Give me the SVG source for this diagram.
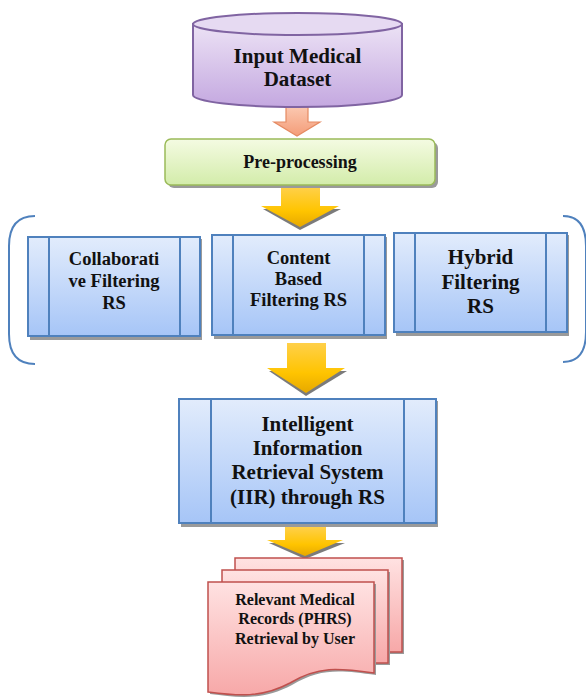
<svg xmlns="http://www.w3.org/2000/svg" width="586" height="700" viewBox="0 0 586 700" font-family="Liberation Serif, Times New Roman, serif">
<defs>
<linearGradient id="gPurple" x1="0" y1="0" x2="0" y2="1"><stop offset="0" stop-color="#ece2f5"/><stop offset="1" stop-color="#c4a8e0"/></linearGradient>
<linearGradient id="gGreen" x1="0" y1="0" x2="0" y2="1"><stop offset="0" stop-color="#f4fbe2"/><stop offset="1" stop-color="#d3ecaa"/></linearGradient>
<linearGradient id="gBlue" x1="0" y1="0" x2="0" y2="1"><stop offset="0" stop-color="#e2ecfc"/><stop offset="1" stop-color="#a6c5f7"/></linearGradient>
<linearGradient id="gPink" x1="0" y1="0" x2="0" y2="1"><stop offset="0" stop-color="#ffe2e2"/><stop offset="1" stop-color="#f7a8a8"/></linearGradient>
<linearGradient id="gYellow" x1="0" y1="0" x2="0" y2="1"><stop offset="0" stop-color="#ffd04a"/><stop offset="0.6" stop-color="#ffc400"/><stop offset="1" stop-color="#e6a800"/></linearGradient>
<linearGradient id="gSalmon" x1="0" y1="0" x2="0" y2="1"><stop offset="0" stop-color="#fbc8b0"/><stop offset="1" stop-color="#f49c78"/></linearGradient>
</defs>
<style>
.t{font-weight:bold;fill:#111;text-anchor:middle}
.box{fill:url(#gBlue);stroke:#4f81bd;stroke-width:2}
.ln{stroke:#4f81bd;stroke-width:2;fill:none}
.sh{fill:#9a9a9a}
.doc{fill:url(#gPink);stroke:#c0504d;stroke-width:1.5}
.br{fill:none;stroke:#4f81bd;stroke-width:2}
.ya{fill:url(#gYellow)}
.yas{fill:#5a5a5a;opacity:0.8}
</style>

<g id="connectors">
  <path d="M286,107 H308 V122 H320 L297,136 L274,122 H286 Z" fill="url(#gSalmon)" stroke="#e58a62" stroke-width="1.2"/>
  <path d="M263,209 L300,230 L341,209 Z" class="yas"/>
  <path d="M281,187 H320 V206 H339 L300,227 L261,206 H281 Z" class="ya"/>
  <path d="M269,371 L306,396 L347,371 Z" class="yas"/>
  <path d="M287,343 H326 V368 H345 L306,393 L267,368 H287 Z" class="ya"/>
  <path d="M269,543 L305,559 L345,543 Z" class="yas"/>
  <path d="M285,527 H326 V540 H343 L305,556 L267,540 H285 Z" class="ya"/>
  <path d="M35,216 Q9,216 9,246 V334 Q9,364 35,364" class="br"/>
  <path d="M563,216 Q586,216 586,246 V332 Q586,362 563,362" class="br"/>
</g>

<g id="input-dataset">
  <path d="M193,24 V95 A104.5,12 0 0 0 402,95 V24 Z" fill="url(#gPurple)" stroke="#8064a2" stroke-width="2"/>
  <ellipse cx="297.5" cy="24" rx="104.5" ry="11" fill="#e6daf2" stroke="#8064a2" stroke-width="2"/>
  <text class="t" x="297.5" y="63" font-size="21">Input Medical</text>
  <text class="t" x="297.5" y="86" font-size="21">Dataset</text>
</g>

<g id="preprocessing">
  <rect x="168" y="142" width="270" height="46" rx="6" fill="#9a9a9a"/>
  <rect x="165" y="139" width="270" height="46" rx="6" fill="url(#gGreen)" stroke="#9bbb59" stroke-width="1.5"/>
  <text class="t" x="300" y="168" font-size="18">Pre-processing</text>
</g>

<g id="collaborative">
  <rect x="30" y="239" width="172" height="101" class="sh"/>
  <rect x="28" y="237" width="172" height="99" class="box"/>
  <path d="M49,237 V336 M180,237 V336" class="ln"/>
  <text class="t" x="114" y="265" font-size="18.5">Collaborati</text>
  <text class="t" x="114" y="287" font-size="18.5">ve Filtering</text>
  <text class="t" x="114" y="309" font-size="18.5">RS</text>
</g>

<g id="content-based">
  <rect x="214" y="237" width="173" height="102" class="sh"/>
  <rect x="212" y="235" width="173" height="100" class="box"/>
  <path d="M233,235 V335 M364,235 V335" class="ln"/>
  <text class="t" x="298.5" y="264" font-size="18.5">Content</text>
  <text class="t" x="298.5" y="285" font-size="18.5">Based</text>
  <text class="t" x="298.5" y="306" font-size="18.5">Filtering RS</text>
</g>

<g id="hybrid">
  <rect x="396" y="235" width="173" height="101" class="sh"/>
  <rect x="394" y="233" width="173" height="99" class="box"/>
  <path d="M415,233 V332 M546,233 V332" class="ln"/>
  <text class="t" x="480.5" y="264" font-size="21">Hybrid</text>
  <text class="t" x="480.5" y="289" font-size="21">Filtering</text>
  <text class="t" x="480.5" y="313" font-size="21">RS</text>
</g>

<g id="iir">
  <rect x="181" y="401" width="257" height="126" class="sh"/>
  <rect x="179" y="399" width="257" height="124" class="box"/>
  <path d="M211,399 V523 M404,399 V523" class="ln"/>
  <text class="t" x="307.5" y="431" font-size="21">Intelligent</text>
  <text class="t" x="307.5" y="455" font-size="21">Information</text>
  <text class="t" x="307.5" y="479" font-size="21">Retrieval System</text>
  <text class="t" x="307.5" y="504" font-size="21">(IIR) through RS</text>
</g>

<g id="relevant-records">
  <path d="M237,560 H404 V654 H237 Z" fill="#9a9a9a"/>
  <path d="M235,558 H402 V652 H235 Z" class="doc"/>
  <path d="M224,572 H390 V665 H224 Z" fill="#9a9a9a"/>
  <path d="M222,570 H388 V663 H222 Z" class="doc"/>
  <path d="M210,584 H376 V675 C340,670 320,668 292,685 C264,700 240,698 210,694 Z" fill="#9a9a9a"/>
  <path d="M208,582 H374 V673 C338,668 318,666 290,683 C262,698 238,696 208,692 Z" class="doc"/>
  <text class="t" x="295" y="605" font-size="16">Relevant Medical</text>
  <text class="t" x="295" y="624" font-size="16">Records (PHRS)</text>
  <text class="t" x="295" y="644" font-size="16">Retrieval by User</text>
</g>
</svg>
